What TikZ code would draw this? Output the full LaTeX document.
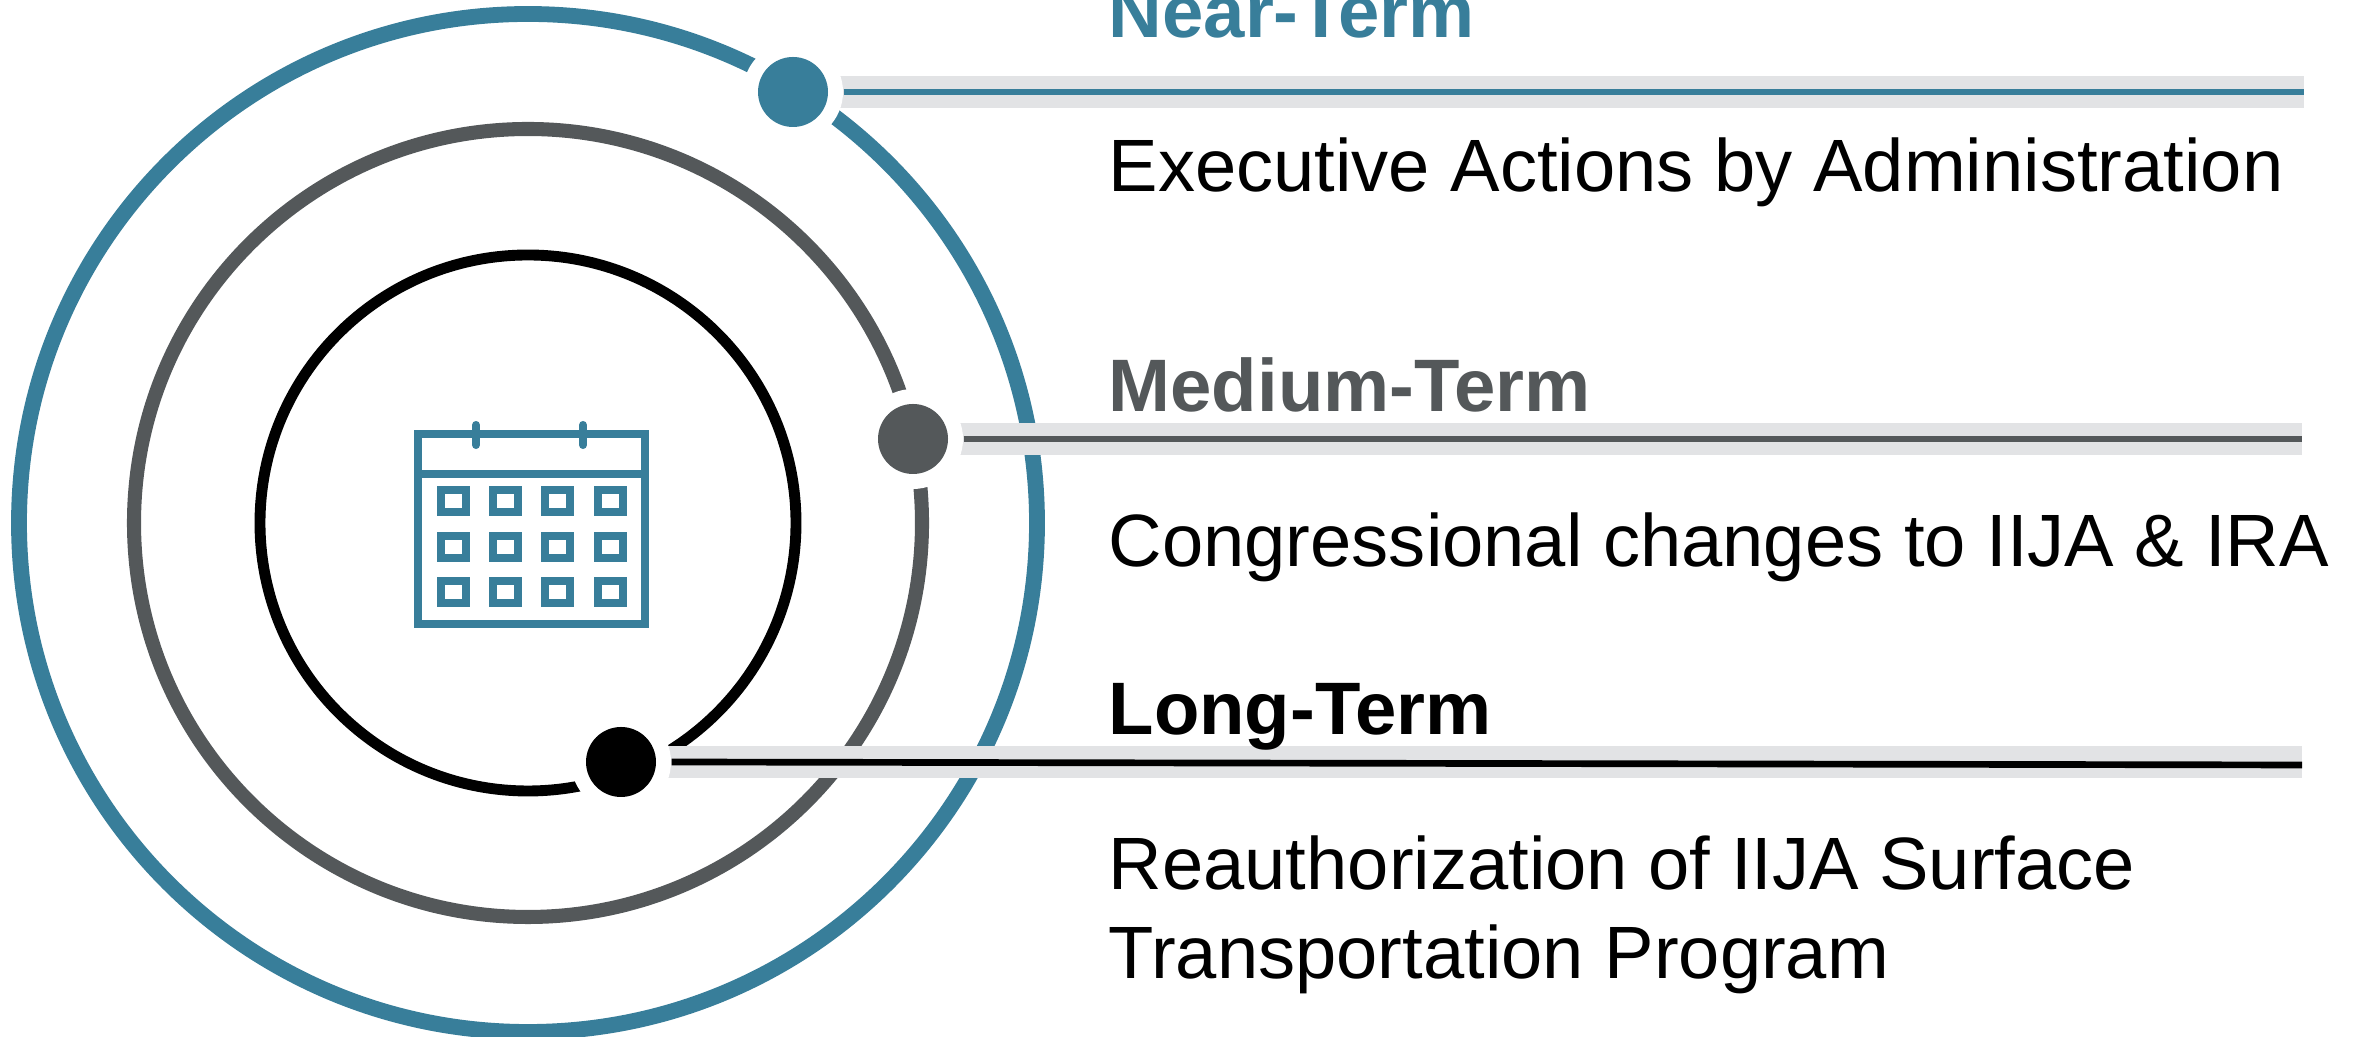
\documentclass[tikz,border=0pt]{standalone}
\usepackage{fontspec}
\setmainfont{Liberation Sans}
\definecolor{tealish}{HTML}{387E9A}
\definecolor{slategrey}{HTML}{54585A}
\definecolor{barfill}{HTML}{E2E3E5}
\tikzset{
    ring/.style={line width=4pt},
    dot/.style={circle,inner sep=0pt,minimum size=0.70cm},
    halo/.style={circle,fill=white,inner sep=0pt,minimum size=1.00cm},
    bar/.style={barfill,line width=0.32cm},
    link/.style={line width=1.9pt},
    heading/.style={anchor=base west,inner sep=0pt,font=\fontsize{21.15}{25}\selectfont\bfseries},
    body/.style={anchor=base west,inner sep=0pt,align=left,font=\fontsize{21.1}{25.6}\selectfont},
    cal/.style={tealish,line width=2.3pt}
}
\begin{document}
\begin{tikzpicture}
    \useasboundingbox (0,0) rectangle (23.64,10.37);
    \coordinate (hub) at (5.28,5.14);
    \coordinate (endnear) at (23.04,9.45);
    \coordinate (endmed) at (23.02,5.98);
    \coordinate (endlong) at (23.02,2.72);

    % rings
    \draw[ring,tealish,line width=4.5pt] (hub) circle (5.09);
    \draw[ring,slategrey] (hub) circle (3.94);
    \draw[ring,black,line width=3.1pt] (hub) circle (2.68);

    % bars
    \draw[bar] (7.93,9.45) -- (endnear);
    \draw[bar] (9.13,5.98) -- (endmed);
    \draw[bar] (6.21,2.75) -- (23.02,2.75);

    % nodes
    \node (halonear) at (7.93,9.45) [halo] {};
    \node (halomed) at (9.13,5.98) [halo] {};
    \node (halolong) at (6.21,2.75) [halo] {};
    \node (dotnear) at (7.93,9.45) [dot,fill=tealish] {};
    \node (dotmed) at (9.13,5.98) [dot,fill=slategrey] {};
    \node (dotlong) at (6.21,2.75) [dot,fill=black] {};

    % paths
    \draw[link,tealish] (halonear.east) to (endnear);
    \draw[link,slategrey] (halomed.east) to (endmed);
    \draw[link,black] (halolong.east) to (endlong);

    % labels
    \node (nearhead) at (11.08,9.99) [heading,text=tealish] {Near-Term};
    \node (neartext) at (11.08,8.45) [body] {Executive Actions by Administration};
    \node (medhead) at (11.08,6.25) [heading,text=slategrey] {Medium-Term};
    \node (medtext) at (11.08,4.70) [body] {Congressional changes to IIJA \& IRA};
    \node (longhead) at (11.08,3.02) [heading] {Long-Term};
    \node (longtext) at (11.08,0.58) [body] {Reauthorization of IIJA Surface\\Transportation Program};

    % calendar
    \draw[cal] (4.18,6.03) rectangle (6.45,4.13);
    \draw[cal] (4.18,5.63) -- (6.45,5.63);
    \foreach \x in {4.76,5.83}
        \draw[cal,line cap=round] (\x,6.12) -- (\x,5.92);
    \foreach \i in {0,1,2,3}
        \foreach \j in {0,1,2}
            \draw[cal] ({4.533+0.523*\i-0.125},{5.36-0.457*\j-0.11}) rectangle ++(0.25,0.22);
\end{tikzpicture}
\end{document}
